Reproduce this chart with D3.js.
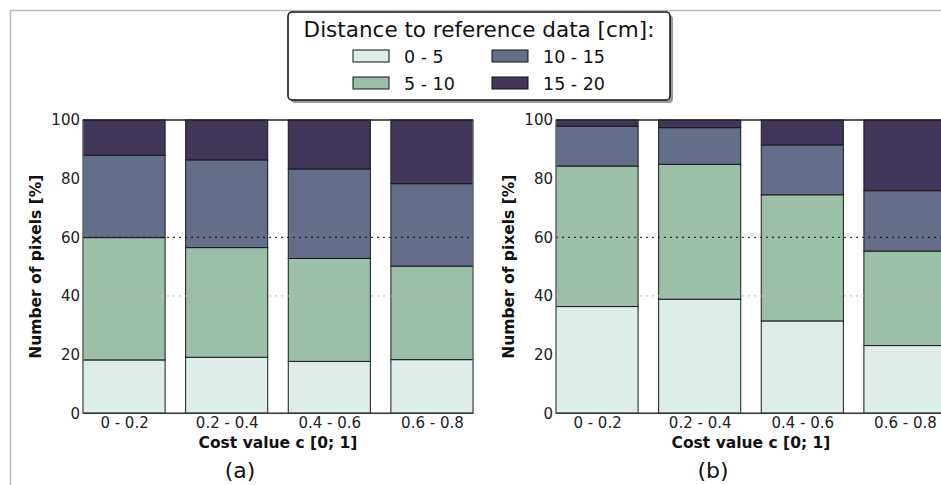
<!DOCTYPE html>
<html>
<head>
<meta charset="utf-8">
<script src="https://cdn.jsdelivr.net/npm/d3@7"></script>
<style>
  body { margin: 0; background: #fff; }
  svg { display: block; font-family: "DejaVu Sans", sans-serif; }
</style>
</head>
<body>
<svg id="chart" width="941" height="485"></svg>
<script>
// categories (cost value bins) and distance bins
const categories = ['0 - 0.2', '0.2 - 0.4', '0.4 - 0.6', '0.6 - 0.8'];
const distanceBins = ['0 - 5', '5 - 10', '10 - 15', '15 - 20'];
const yTicks = [0, 20, 40, 60, 80, 100];

// panel (a) values, percent of pixels
const a_0_5 = [18.2, 19.1, 17.7, 18.3];
const a_5_10 = [41.7, 37.4, 35.1, 31.9];
const a_10_15 = [28.1, 29.9, 30.5, 28.1];
const a_15_20 = [12.0, 13.6, 16.7, 21.7];

// panel (b) values
const b_0_5 = [36.4, 38.9, 31.5, 23.1];
const b_5_10 = [47.9, 46.0, 43.0, 32.2];
const b_10_15 = [13.6, 12.5, 17.0, 20.6];
const b_15_20 = [2.1, 2.6, 8.5, 24.1];

const colors = ['#deecea', '#9bbfa9', '#646d89', '#41365a'];

const svg = d3.select('#chart');

// outer frame (light gray)
svg.append('path')
  .attr('d', 'M10.5,485 L10.5,10.5 L941,10.5')
  .attr('fill', 'none')
  .attr('stroke', '#bdbdbd')
  .attr('stroke-width', 1.5);

const barWidth = 0.8;

function toRows(s0, s1, s2, s3) {
  return categories.map((c, i) => ({
    cat: c, idx: i,
    [distanceBins[0]]: s0[i],
    [distanceBins[1]]: s1[i],
    [distanceBins[2]]: s2[i],
    [distanceBins[3]]: s3[i]
  }));
}

function drawPanel(rows, left, caption) {
  const top = 120, bottom = 413.3, width = 390;
  const x = d3.scaleLinear().domain([0, categories.length - 1 + barWidth]).range([left, left + width]);
  const y = d3.scaleLinear().domain([0, 100]).range([bottom, top]);

  const stacked = d3.stack().keys(distanceBins)(rows);

  const g = svg.append('g');

  g.selectAll('g.series')
    .data(stacked)
    .join('g')
    .attr('class', 'series')
    .attr('fill', (d, i) => colors[i])
    .selectAll('rect')
    .data(d => d)
    .join('rect')
    .attr('x', d => x(d.data.idx))
    .attr('width', d => x(d.data.idx + barWidth) - x(d.data.idx))
    .attr('y', d => y(d[1]))
    .attr('height', d => y(d[0]) - y(d[1]))
    .attr('stroke', '#1a1a1a')
    .attr('stroke-width', 1);

  // dotted reference lines
  g.append('line')
    .attr('x1', x(0)).attr('x2', left + width)
    .attr('y1', y(60)).attr('y2', y(60))
    .attr('stroke', '#111').attr('stroke-width', 1)
    .attr('stroke-dasharray', '2,4');
  g.append('line')
    .attr('x1', x(0)).attr('x2', left + width)
    .attr('y1', y(40)).attr('y2', y(40))
    .attr('stroke', '#bbb').attr('stroke-width', 1)
    .attr('stroke-dasharray', '2,4');

  // spines
  g.append('line').attr('x1', left).attr('x2', left).attr('y1', top).attr('y2', bottom)
    .attr('stroke', '#888').attr('stroke-width', 1);
  g.append('line').attr('x1', left + width).attr('x2', left + width).attr('y1', top).attr('y2', bottom)
    .attr('stroke', '#888').attr('stroke-width', 1);
  g.append('line').attr('x1', left).attr('x2', left + width).attr('y1', top).attr('y2', top)
    .attr('stroke', '#222').attr('stroke-width', 1.5);
  g.append('line').attr('x1', left).attr('x2', left + width).attr('y1', bottom).attr('y2', bottom)
    .attr('stroke', '#333').attr('stroke-width', 1.5);

  // y axis
  const yAxis = g.append('g')
    .attr('transform', `translate(${left},0)`)
    .call(d3.axisLeft(y).tickValues(yTicks).tickSize(0).tickPadding(3));
  yAxis.select('.domain').remove();
  yAxis.selectAll('text')
    .style('font-size', '15px').attr('fill', '#222')
    .style('font-family', '"DejaVu Sans", sans-serif');

  // x axis, labels centred on bars
  const xAxis = g.append('g')
    .attr('transform', `translate(0,${bottom})`)
    .call(d3.axisBottom(x)
      .tickValues(categories.map((c, i) => i + barWidth / 2))
      .tickFormat((d, i) => categories[i])
      .tickSize(0).tickPadding(4));
  xAxis.select('.domain').remove();
  xAxis.selectAll('text')
    .style('font-size', '15px').attr('fill', '#222')
    .style('font-family', '"DejaVu Sans", sans-serif');

  // axis titles
  g.append('text')
    .attr('transform', `translate(${left - 42},${(top + bottom) / 2}) rotate(-90)`)
    .attr('text-anchor', 'middle')
    .style('font-size', '15.5px').attr('font-weight', 'bold').attr('fill', '#111')
    .text('Number of pixels [%]');

  g.append('text')
    .attr('x', left + width / 2).attr('y', 448)
    .attr('text-anchor', 'middle')
    .style('font-size', '15.5px').attr('font-weight', 'bold').attr('fill', '#111')
    .text('Cost value c [0; 1]');

  g.append('text')
    .attr('x', left + width / 2 - 38).attr('y', 478)
    .attr('text-anchor', 'middle')
    .style('font-size', '22px').attr('fill', '#111')
    .text(caption);
}

drawPanel(toRows(a_0_5, a_5_10, a_10_15, a_15_20), 83, '(a)');
drawPanel(toRows(b_0_5, b_5_10, b_10_15, b_15_20), 556, '(b)');

// legend
const legend = svg.append('g');
legend.append('rect')
  .attr('x', 291).attr('y', 15).attr('width', 382).attr('height', 88)
  .attr('rx', 4).attr('fill', '#999');
legend.append('rect')
  .attr('x', 288).attr('y', 12).attr('width', 382).attr('height', 88)
  .attr('rx', 4).attr('fill', '#fff')
  .attr('stroke', '#111').attr('stroke-width', 1.5);
legend.append('text')
  .attr('x', 479).attr('y', 37)
  .attr('text-anchor', 'middle')
  .style('font-size', '21.5px').attr('fill', '#111')
  .text('Distance to reference data [cm]:');

const legendItems = legend.selectAll('g.item')
  .data(distanceBins)
  .join('g')
  .attr('class', 'item')
  .attr('transform', (d, i) => `translate(${i < 2 ? 353 : 492},${i % 2 === 0 ? 50 : 77})`);
legendItems.append('rect')
  .attr('width', 36).attr('height', 12)
  .attr('fill', (d, i) => colors[i])
  .attr('stroke', '#111').attr('stroke-width', 1);
legendItems.append('text')
  .attr('x', 51).attr('y', 12.5)
  .style('font-size', '17.5px').attr('fill', '#111')
  .text(d => d);
</script>
</body>
</html>
